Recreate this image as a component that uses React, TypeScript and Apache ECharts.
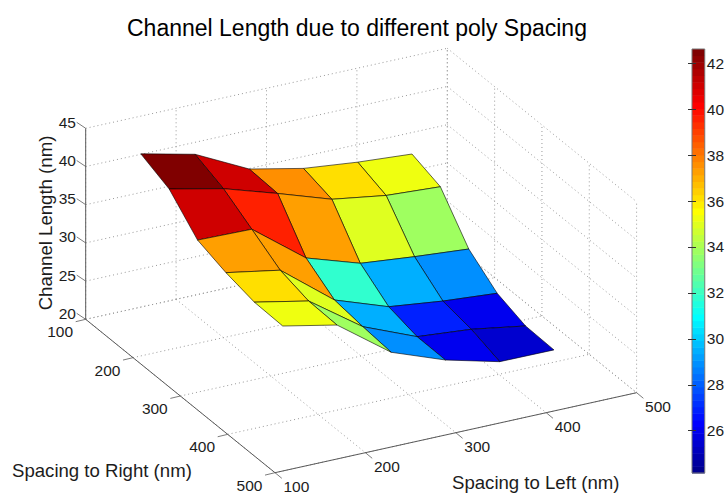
import React, { useEffect, useRef } from "react";
import * as echarts from "echarts";

const TITLE = "Channel Length due to different poly Spacing";
const X_TITLE = "Spacing to Left (nm)";
const Y_TITLE = "Spacing to Right (nm)";
const Z_TITLE = "Channel Length (nm)";

const xTicks = [100, 200, 300, 400, 500];
const yTicks = [100, 200, 300, 400, 500];
const zTicks = [20, 25, 30, 35, 40, 45];
const colorTicks = [26, 28, 30, 32, 34, 36, 38, 40, 42];

const gridLeft = [140, 200, 260, 320, 380, 440];
const gridRight = [140, 200, 260, 320, 380, 440];

const row140 = [42.62, 40.99, 37.49, 36.0, 35.25, 34.74];
const row200 = [41.03, 39.5, 37.3, 34.97, 33.9, 33.47];
const row260 = [37.35, 37.2, 31.87, 29.6, 28.9, 28.33];
const row320 = [36.1, 34.85, 29.38, 26.93, 26.1, 25.55];
const row380 = [35.25, 33.83, 28.9, 26.02, 25.42, 24.28];
const row440 = [35.14, 33.7, 28.56, 25.98, 24.19, 24.16];
const surface = [row140, row200, row260, row320, row380, row440];

const colorMin = 24.16;
const colorMax = 42.62;
const BANDS = 64;

// Orthographic view of the MATLAB axes box
const project = (x: number, y: number, z: number): [number, number] => {
  const u = (x - 100) / 400;
  const v = (y - 100) / 400;
  const w = (z - 20) / 25;
  return [85.7 + 361.6 * u + 189.3 * v, 319.3 - 80 * u + 153.4 * v - 191 * w];
};

const jetBand = (k: number): string => {
  const t = (k + 1) / BANDS;
  const ch = (a: number) => Math.round(255 * Math.max(0, Math.min(1, 1.5 - Math.abs(4 * t - a))));
  return `rgb(${ch(3)},${ch(2)},${ch(1)})`;
};
const jetValue = (z: number): string => {
  const k = Math.min(BANDS - 1, Math.floor(((z - colorMin) / (colorMax - colorMin)) * BANDS));
  return jetBand(Math.max(0, k));
};

const FONT = '"Liberation Sans", Arial, sans-serif';
const TEXT = "#1c1c1c";
const AXIS = "#5a5a5a";

type Seg = [number, number, number, number, number, number];

const buildGridSegs = (): Seg[] => {
  const segs: Seg[] = [];
  const x1 = xTicks[xTicks.length - 1], x0 = xTicks[0];
  const y1 = yTicks[yTicks.length - 1], y0 = yTicks[0];
  const z1 = zTicks[zTicks.length - 1], z0 = zTicks[0];
  for (const x of xTicks) {
    segs.push([x, y0, z0, x, y1, z0]);
    segs.push([x, y0, z0, x, y0, z1]);
  }
  for (const y of yTicks) {
    segs.push([x0, y, z0, x1, y, z0]);
    segs.push([x1, y, z0, x1, y, z1]);
  }
  for (const z of zTicks) {
    segs.push([x0, y0, z, x1, y0, z]);
    segs.push([x1, y0, z, x1, y1, z]);
  }
  return segs;
};

const buildAxisSegs = (): Seg[] => {
  const x1 = xTicks[xTicks.length - 1], x0 = xTicks[0];
  const y1 = yTicks[yTicks.length - 1], y0 = yTicks[0];
  const z1 = zTicks[zTicks.length - 1], z0 = zTicks[0];
  return [
    [x0, y0, z0, x0, y0, z1],
    [x0, y0, z0, x0, y1, z0],
    [x0, y1, z0, x1, y1, z0],
  ];
};

const buildFaces = (): number[][] => {
  const faces: { key: number; v: number[] }[] = [];
  for (let j = 0; j < gridRight.length - 1; j++) {
    for (let i = 0; i < gridLeft.length - 1; i++) {
      const a = gridLeft[i], b = gridLeft[i + 1];
      const c = gridRight[j], d = gridRight[j + 1];
      faces.push({
        key: j - i,
        v: [
          a, c, surface[j][i],
          b, c, surface[j][i + 1],
          b, d, surface[j + 1][i + 1],
          a, d, surface[j + 1][i],
        ],
      });
    }
  }
  faces.sort((p, q) => p.key - q.key);
  return faces.map((f) => f.v);
};

export default function App() {
  const ref = useRef<HTMLDivElement>(null);
  useEffect(() => {
    if (!ref.current) return;
    const chart = echarts.init(ref.current, undefined, { renderer: "svg" });

    const at = (api: any, x: number, y: number, z: number) => api.coord(project(x, y, z));

    const segSeries = (data: Seg[], style: any, name: string) => ({
      type: "custom",
      name,
      xAxisIndex: 0,
      yAxisIndex: 0,
      silent: true,
      clip: false,
      data,
      renderItem: (_: any, api: any) => {
        const p = at(api, api.value(0), api.value(1), api.value(2));
        const q = at(api, api.value(3), api.value(4), api.value(5));
        return {
          type: "line",
          shape: { x1: p[0], y1: p[1], x2: q[0], y2: q[1] },
          style,
        };
      },
    });

    const tickMark = (from: [number, number, number], dx: number, dy: number) => (api: any) => {
      const p = at(api, from[0], from[1], from[2]);
      return { type: "line", shape: { x1: p[0], y1: p[1], x2: p[0] + dx, y2: p[1] + dy }, style: { stroke: AXIS, lineWidth: 0.8, fill: "none" } };
    };

    const tickSeries = (
      points: [number, number, number][],
      labels: number[],
      dx: number,
      dy: number,
      lx: number,
      ly: number,
      align: string
    ) => ({
      type: "custom",
      xAxisIndex: 0,
      yAxisIndex: 0,
      silent: true,
      clip: false,
      data: points.map((p, i) => [p[0], p[1], p[2], labels[i]]),
      renderItem: (_: any, api: any) => {
        const pt: [number, number, number] = [api.value(0), api.value(1), api.value(2)];
        const p = at(api, pt[0], pt[1], pt[2]);
        return {
          type: "group",
          children: [
            tickMark(pt, dx, dy)(api),
            {
              type: "text",
              x: p[0] + lx,
              y: p[1] + ly,
              style: {
                text: String(api.value(3)),
                font: `15.5px ${FONT}`,
                fill: TEXT,
                align,
                verticalAlign: "middle",
              },
            },
          ],
        };
      },
    });

    const option: any = {
      animation: false,
      backgroundColor: "#ffffff",
      title: {
        text: TITLE,
        left: 122,
        top: 11,
        textStyle: { fontFamily: FONT, fontSize: 23, fontWeight: "normal", color: "#000" },
      },
      grid: [
        { left: 0, top: 0, width: 727, height: 494, show: false },
        { left: 692, top: 49, width: 16, height: 424, show: true, borderColor: "#777", borderWidth: 1, backgroundColor: "transparent", z: 5 },
      ],
      xAxis: [
        { type: "value", gridIndex: 0, min: 0, max: 727, show: false },
        { type: "value", gridIndex: 1, min: 0, max: 1, show: false },
      ],
      yAxis: [
        { type: "value", gridIndex: 0, min: 0, max: 494, inverse: true, show: false },
        {
          type: "value",
          gridIndex: 1,
          position: "right",
          min: colorMin,
          max: colorMax,
          axisLine: { show: false },
          splitLine: { show: false },
          axisTick: { show: true, inside: true, length: 4, customValues: colorTicks, lineStyle: { color: "#333", width: 1 } },
          axisLabel: { customValues: colorTicks, margin: 2, fontFamily: FONT, fontSize: 15.5, color: TEXT },
          z: 6,
        },
        {
          type: "value",
          gridIndex: 1,
          position: "left",
          min: colorMin,
          max: colorMax,
          axisLine: { show: false },
          splitLine: { show: false },
          axisTick: { show: true, inside: true, length: 4, customValues: colorTicks, lineStyle: { color: "#333", width: 1 } },
          axisLabel: { show: false },
          z: 6,
        },
      ],
      series: [
        segSeries(buildGridSegs(), { stroke: "#999999", lineWidth: 1, lineDash: [1, 3], fill: "none" }, "grid"),
        segSeries(buildAxisSegs(), { stroke: AXIS, lineWidth: 1, fill: "none" }, "axes"),
        tickSeries(zTicks.map((z) => [xTicks[0], yTicks[0], z]), zTicks, -9, -6, -9.7, -6, "right"),
        tickSeries(yTicks.map((y) => [xTicks[0], y, zTicks[0]]), yTicks, -10, 2.4, -12.6, 12.6, "right"),
        tickSeries(xTicks.map((x) => [x, yTicks[yTicks.length - 1], zTicks[0]]), xTicks, 6.8, 5.6, 8.5, 13.4, "left"),
        {
          type: "custom",
          name: "surface",
          xAxisIndex: 0,
          yAxisIndex: 0,
          silent: true,
          clip: false,
          data: buildFaces(),
          renderItem: (_: any, api: any) => {
            const pts = [0, 3, 6, 9].map((o) => at(api, api.value(o), api.value(o + 1), api.value(o + 2)));
            return {
              type: "polygon",
              shape: { points: pts },
              style: { fill: jetValue(api.value(2)), stroke: "#000", lineWidth: 0.6, lineJoin: "round" },
            };
          },
        },
        {
          type: "custom",
          name: "colorbar",
          xAxisIndex: 1,
          yAxisIndex: 1,
          silent: true,
          data: Array.from({ length: BANDS }, (_, k) => [k]),
          renderItem: (_: any, api: any) => {
            const k = api.value(0);
            const step = (colorMax - colorMin) / BANDS;
            const a = api.coord([0, colorMin + k * step]);
            const b = api.coord([1, colorMin + (k + 1) * step]);
            return {
              type: "rect",
              shape: { x: a[0], y: b[1], width: b[0] - a[0], height: a[1] - b[1] + 0.5 },
              style: { fill: jetBand(k) },
            };
          },
        },
      ],
      graphic: [
        {
          type: "text",
          x: 12,
          y: 470,
          style: { text: Y_TITLE, font: `18.6px ${FONT}`, fill: TEXT, align: "left", verticalAlign: "middle", textAlign: "left", textVerticalAlign: "middle" },
        },
        {
          type: "text",
          x: 452,
          y: 482,
          style: { text: X_TITLE, font: `18.6px ${FONT}`, fill: TEXT, align: "left", verticalAlign: "middle", textAlign: "left", textVerticalAlign: "middle" },
        },
        {
          type: "text",
          x: 45,
          y: 223,
          rotation: Math.PI / 2,
          style: { text: Z_TITLE, font: `18.6px ${FONT}`, fill: TEXT, align: "center", verticalAlign: "middle", textAlign: "center", textVerticalAlign: "middle" },
        },
      ],
    };
    chart.setOption(option);
    return () => chart.dispose();
  }, []);
  return <div ref={ref} style={{ position: "fixed", left: 0, top: 0, width: 727, height: 494 }} />;
}
